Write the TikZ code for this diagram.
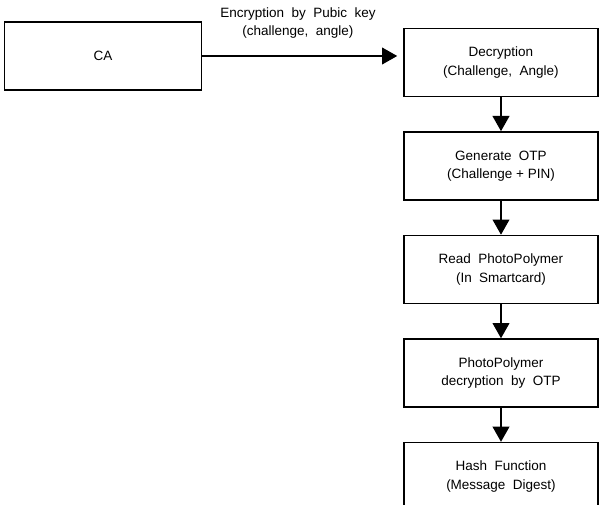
\documentclass[tikz,border=0pt]{standalone}
\usepackage{fontspec}
\setmainfont{Liberation Sans}
\usetikzlibrary{positioning, arrows.meta}

\begin{document}
\begin{tikzpicture}[>={Triangle[length=3.8mm, width=4.2mm]},
		bloque/.style={draw, line width=1.1pt, minimum width=\Wb cm, minimum height=\Hb cm,
			align=center, font=\fontsize{9.6}{13}\selectfont},
		flecha/.style={->, line width=1.1pt}]
		
		% Parámetros geométricos del diagrama
		\def\Wb{4.85}    % Ancho de los bloques de la columna
		\def\Hb{1.7}     % Alto de los bloques
		\def\Sep{0.85}   % Separación vertical entre bloques
		
		% Marco de la figura
		\useasboundingbox (0,0) rectangle (15,-12.625);
		
		% --- 1. BLOQUE CA (izquierda) ---
		\node[bloque, minimum width=4.925cm] (ca) at (2.575,-1.4) {CA};
		
		% --- 2. COLUMNA DE PROCESOS ---
		\node[bloque] (decr) at (12.525,-1.56) {Decryption\\(Challenge,\ \ Angle)};
		\node[bloque, below=\Sep cm of decr] (otp) {Generate\ \ OTP\\(Challenge + PIN)};
		\node[bloque, below=\Sep cm of otp] (leer) {Read\ \ PhotoPolymer\\(In\ \ Smartcard)};
		\node[bloque, below=\Sep cm of leer] (desc) {PhotoPolymer\\decryption\ \ by\ \ OTP};
		\node[bloque, below=\Sep cm of desc] (hash) {Hash\ \ Function\\(Message\ \ Digest)};
		
		% --- 3. CONECTORES ---
		% Envío cifrado desde CA (la punta queda algo separada del bloque)
		\draw[flecha, shorten >=0.15cm] (ca.east) -- (ca.east -| decr.west)
			node[midway, above=0.3cm, xshift=-0.12cm, align=center, font=\fontsize{9.6}{13}\selectfont]
			{Encryption\ \ by\ \ Pubic\ \ key\\(challenge,\ \ angle)};
		
		% Flechas verticales entre bloques
		\foreach \a/\b in {decr/otp, otp/leer, leer/desc, desc/hash}
			\draw[flecha] (\a) -- (\b);
		
	\end{tikzpicture}
\end{document}
